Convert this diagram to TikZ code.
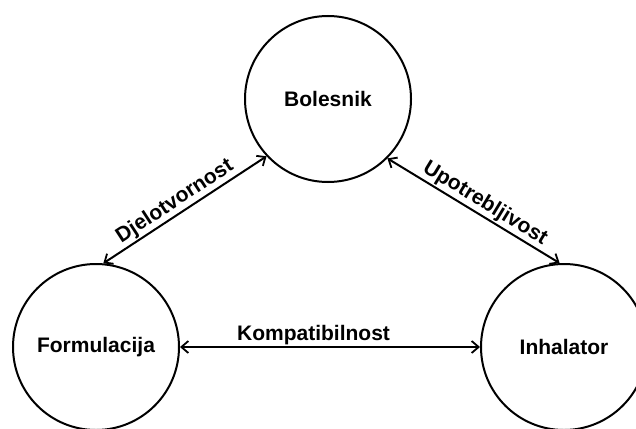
\documentclass[tikz,border=0pt]{standalone}
\usepackage{fontspec}
\setmainfont{Liberation Sans}
\usetikzlibrary{arrows.meta}
\begin{document}
\begin{tikzpicture}[x=1pt,y=-1pt,
  ent/.style={draw, circle, line width=2pt, minimum size=166pt, inner sep=0pt,
    font=\fontsize{21}{25}\selectfont\bfseries},
  rel/.style={line width=2pt, {Straight Barb[length=7pt,width=12pt,line width=1.8pt]}-{Straight Barb[length=7pt,width=12pt,line width=1.8pt]}},
  lbl/.style={font=\fontsize{21}{25}\selectfont\bfseries, inner sep=1.5pt}]
\useasboundingbox (0,0) rectangle (636,428);
\clip (0,0) rectangle (636,428);
\node[ent] (bol) at (328,99) {Bolesnik};
\node[ent] (form) at (96,347) {Formulacija};
\node[ent] (inh) at (564,347) {Inhalator};
\draw[rel] (form.85) -- node[lbl, sloped, above, pos=0.48] (l1) {Djelotvornost} (bol.223);
\draw[rel] (bol.315) -- node[lbl, sloped, above, pos=0.53] (l2) {Upotrebljivost} (inh.93);
\draw[rel] (form.east) -- node[lbl, above, pos=0.445] (l3) {Kompatibilnost} (inh.west);
\end{tikzpicture}
\end{document}
